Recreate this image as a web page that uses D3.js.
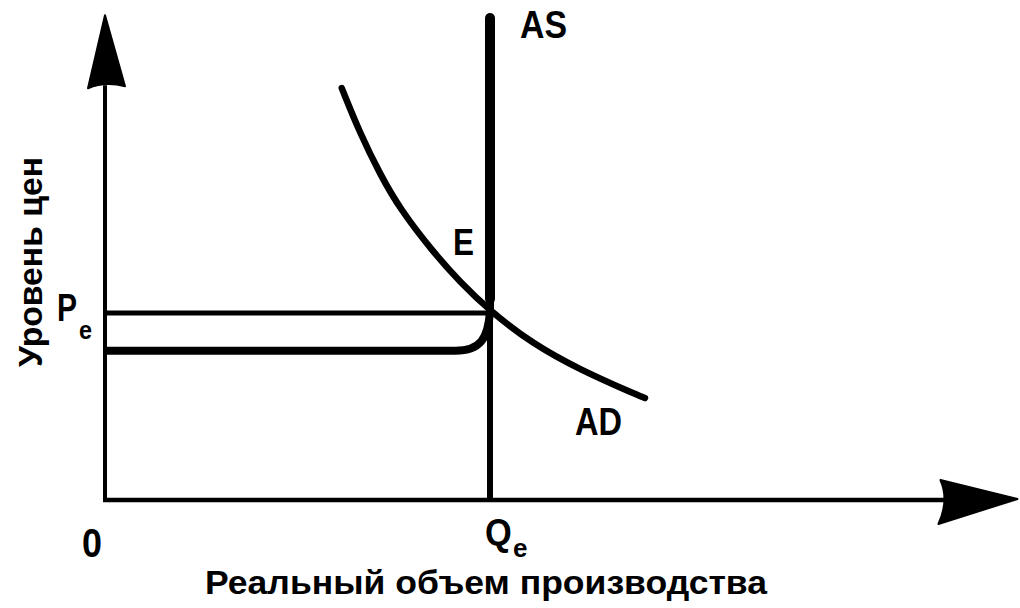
<!DOCTYPE html>
<html>
<head>
<meta charset="utf-8">
<script src="https://cdn.jsdelivr.net/npm/d3@7"></script>
<style>
html,body{margin:0;padding:0;background:#fff;}
svg{display:block;}
text{font-family:"Liberation Sans",Arial,sans-serif;font-weight:bold;fill:#000;}
</style>
</head>
<body>
<svg id="chart" width="1020" height="608"></svg>
<script>
// ---- data ----
const axisMax = {x: 9.48, y: 10.37};
const Qe = 4.0;            // equilibrium output
const Pe = 4.0;            // equilibrium price
const asFloor = 3.19;      // horizontal (Keynesian) segment of AS
const asBendStart = 3.64;  // where AS starts to bend up
const asTop = 10.31;       // top of vertical AS
const adQ = [2.46, 2.65, 2.86, 3.06, 3.41, 3.69, 4.00, 4.45, 4.94, 5.49, 5.61];
const adP = [8.81, 7.84, 6.96, 6.24, 5.30, 4.66, 4.04, 3.33, 2.78, 2.28, 2.18];
const curveLabels = ["AS", "AD", "E"];
const tickLabels = ["0", "Q", "e", "P", "e"];
const axisTitles = ["Реальный объем производства", "Уровень цен"];

// ---- scales ----
const x = d3.scaleLinear().domain([0, 10]).range([105, 1067.5]);
const y = d3.scaleLinear().domain([0, 10]).range([500, 32.5]);

const svg = d3.select("#chart");
const g = svg.append("g");

// axes
g.append("line").attr("x1", x(0)).attr("y1", y(0)).attr("x2", x(0)).attr("y2", y(axisMax.y) + 70)
  .attr("stroke", "#000").attr("stroke-width", 4);
g.append("line").attr("x1", x(0) - 2).attr("y1", y(0)).attr("x2", x(axisMax.x) - 70).attr("y2", y(0))
  .attr("stroke", "#000").attr("stroke-width", 4.5);

// arrowheads
const ty = y(axisMax.y), tx0 = x(0);
g.append("path")
  .attr("d", `M${tx0},${ty} L${tx0 + 20},${ty + 71} Q${tx0},${ty + 66} ${tx0 - 17},${ty + 73} Z`)
  .attr("fill", "#000").attr("stroke", "#000").attr("stroke-width", 2).attr("stroke-linejoin", "round");
const ax = x(axisMax.x), ay = y(0);
g.append("path")
  .attr("d", `M${ax},${ay - 1} L${ax - 77},${ay - 20} Q${ax - 68},${ay} ${ax - 79},${ay + 24} Z`)
  .attr("fill", "#000").attr("stroke", "#000").attr("stroke-width", 2).attr("stroke-linejoin", "round");

// Pe horizontal line and Qe vertical dropline
g.append("line").attr("x1", x(0)).attr("y1", y(Pe)).attr("x2", x(Qe)).attr("y2", y(Pe))
  .attr("stroke", "#000").attr("stroke-width", 5);
g.append("line").attr("x1", x(Qe)).attr("y1", y(0)).attr("x2", x(Qe)).attr("y2", y(Pe))
  .attr("stroke", "#000").attr("stroke-width", 6);

// AS curve
const asPath = d3.path();
asPath.moveTo(x(0), y(asFloor));
asPath.lineTo(x(asBendStart), y(asFloor));
asPath.bezierCurveTo(x(3.9), y(asFloor), x(3.98), y(3.45), x(Qe), y(Pe + 0.04));
asPath.lineTo(x(Qe), y(asTop));
g.append("path").attr("d", asPath.toString()).attr("fill", "none")
  .attr("stroke", "#000").attr("stroke-width", 8).attr("stroke-linejoin", "round");
g.append("line").attr("x1", x(Qe)).attr("y1", y(Pe + 0.3)).attr("x2", x(Qe)).attr("y2", y(asTop))
  .attr("stroke", "#000").attr("stroke-width", 10).attr("stroke-linecap", "round");

// AD curve
const adData = adQ.map((q, i) => [q, adP[i]]);
const adLine = d3.line().x(d => x(d[0])).y(d => y(d[1])).curve(d3.curveBasis);
g.append("path").attr("d", adLine(adData)).attr("fill", "none")
  .attr("stroke", "#000").attr("stroke-width", 6.5).attr("stroke-linecap", "round");

// labels
function lab(t, px, py, fs, w) {
  const el = g.append("text").attr("x", px).attr("y", py).attr("font-size", fs).text(t);
  if (w) el.attr("textLength", w).attr("lengthAdjust", "spacingAndGlyphs");
  return el;
}
function scaledLab(t, px, py, fs, sx) {
  return g.append("text").attr("transform", `translate(${px},${py}) scale(${sx},1)`)
    .attr("font-size", fs).text(t);
}
lab(curveLabels[0], 520, 38, 38, 47);
lab(curveLabels[1], 575, 435, 38, 47);
lab(curveLabels[2], 453, 255, 37, 21);
lab(tickLabels[0], 82, 557, 40, 20);
scaledLab(tickLabels[1], 485, 545, 37, 0.93);
scaledLab(tickLabels[2], 513, 557, 26, 1.0);
scaledLab(tickLabels[3], 57, 321, 39, 0.77);
scaledLab(tickLabels[4], 79, 339, 26, 0.9);
lab(axisTitles[0], 205, 594, 33, 562);
g.append("text").attr("transform", "translate(42,367) rotate(-90)")
  .attr("font-size", 34).attr("textLength", 210).attr("lengthAdjust", "spacingAndGlyphs")
  .text(axisTitles[1]);
</script>
</body>
</html>
